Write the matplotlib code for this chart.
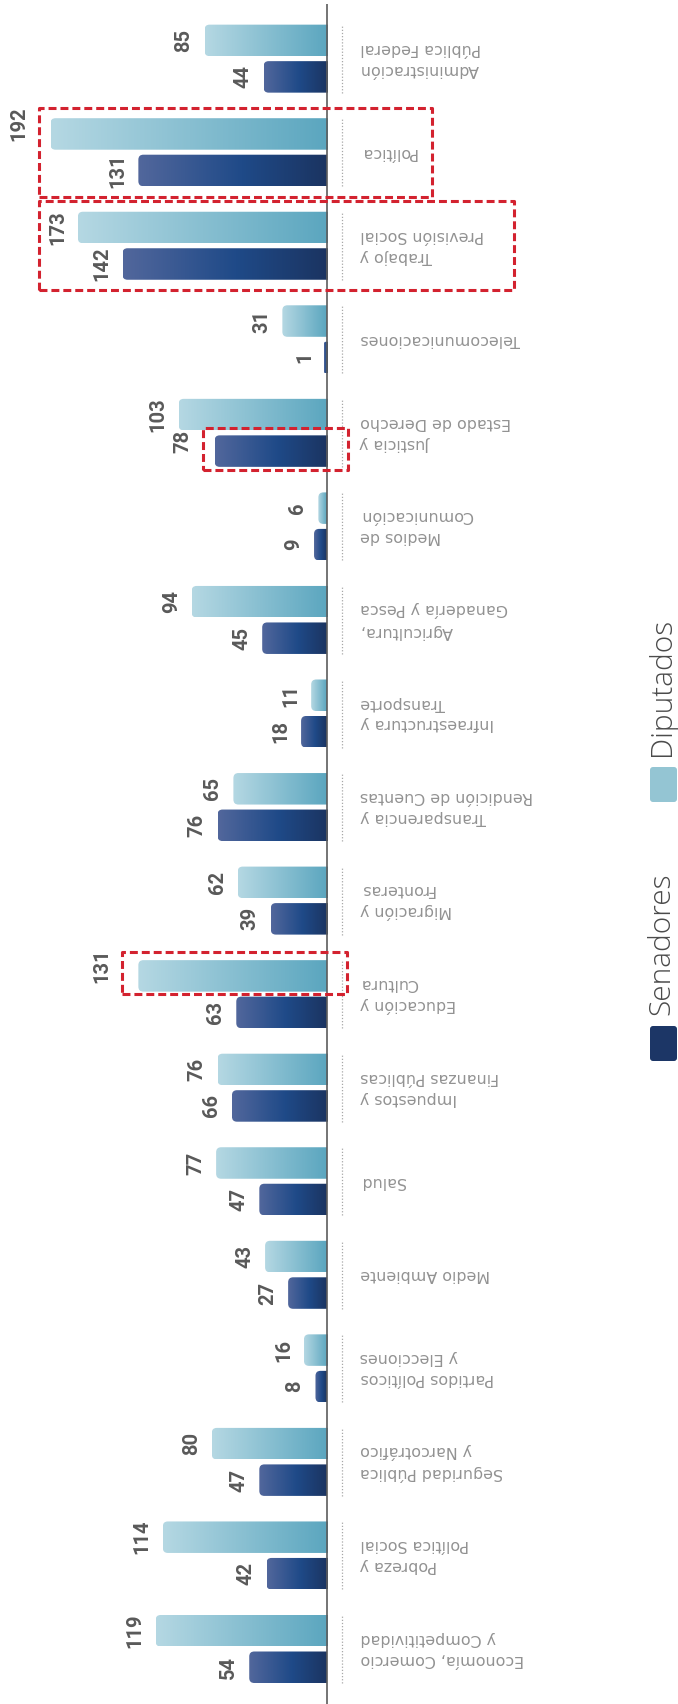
import numpy as np
import matplotlib
matplotlib.use("Agg")
import matplotlib.pyplot as plt
from matplotlib.patches import FancyBboxPatch
from matplotlib.colors import LinearSegmentedColormap

# ---------------- data (original order: first category at the bottom) ----------------
categories = [
    "Economía, Comercio\ny Competitividad",
    "Pobreza y\nPolítica Social",
    "Seguridad Pública\ny Narcotráfico",
    "Partidos Políticos\ny Elecciones",
    "Medio Ambiente",
    "Salud",
    "Impuestos y\nFinanzas Públicas",
    "Educación y\nCultura",
    "Migración y\nFronteras",
    "Transparencia y\nRendición de Cuentas",
    "Infraestructura y\nTransporte",
    "Agricultura,\nGanadería y Pesca",
    "Medios de\nComunicación",
    "Justicia y\nEstado de Derecho",
    "Telecomunicaciones",
    "Trabajo y\nPrevisión Social",
    "Política",
    "Administración\nPública Federal",
]
senadores = [54, 42, 47, 8, 27, 47, 66, 63, 39, 76, 18, 45, 9, 78, 1, 142, 131, 44]
diputados = [119, 114, 80, 16, 43, 77, 76, 131, 62, 65, 11, 94, 6, 103, 31, 173, 192, 85]
series_names = ["Senadores", "Diputados"]

# highlighted boxes: (category index, which bars, left px, right px)
highlights = [(16, "both", 39, 432), (15, "both", 39, 514),
              (13, "Senadores", 203, 348), (7, "Diputados", 122, 347)]

# ---------------- layout ----------------
W, H = 678, 1704
fig = plt.figure(figsize=(W / 100, H / 100), dpi=100)
ax = fig.add_axes([0, 0, 1, 1])
ax.set_axis_off()

X0, SX = 327.0, 1.44      # px of zero line, px per unit
Y0, SY = 1649.0, 93.55    # px of first category centre, px per category


def px_x(p):
    return (X0 - p) / SX


def px_y(p):
    return (Y0 - p) / SY


bar_h = 31.5 / SY
off = 18.25 / SY
n = len(categories)
ypos = np.arange(n)

sen_cmap = LinearSegmentedColormap.from_list("sen", [(0, "#1b3461"), (0.45, "#1f4a88"), (1, "#52679c")])
dip_cmap = LinearSegmentedColormap.from_list("dip", ["#5ba6bf", "#b5d8e3"])

sen_bars = ax.barh(ypos - off, senadores, height=bar_h, color="#1c3666", zorder=2)
dip_bars = ax.barh(ypos + off, diputados, height=bar_h, color="#94c5d3", zorder=2)

grad = np.linspace(0, 1, 256).reshape(1, -1)
for bars, cmap in ((sen_bars, sen_cmap), (dip_bars, dip_cmap)):
    for rect in bars:
        x0, w = rect.get_x(), rect.get_width()
        y0, hh = rect.get_y(), rect.get_height()
        wd = max(w, 3.2 / SX)          # keep very small bars visible next to the axis line
        rx = min(5.0 / SX, wd * 0.6)
        clip = FancyBboxPatch((x0 - 12, y0), wd + 12, hh,
                              boxstyle=f"round,pad=0,rounding_size={rx}",
                              mutation_aspect=SX / SY,
                              transform=ax.transData, facecolor="none", edgecolor="none")
        ax.add_patch(clip)
        im = ax.imshow(grad, cmap=cmap, extent=(x0, x0 + wd, y0, y0 + hh),
                       aspect="auto", interpolation="bicubic", zorder=2)
        im.set_clip_path(clip)
        rect.set_visible(False)

# which bars lie in a highlight box -> box left px
box_left = {}
for idx, which, lpx, rpx in highlights:
    for s in (["Senadores", "Diputados"] if which == "both" else [which]):
        box_left[(idx, s)] = lpx

# value labels
for name, bars, vals in (("Senadores", sen_bars, senadores), ("Diputados", dip_bars, diputados)):
    for i, (rect, v) in enumerate(zip(bars, vals)):
        end_px = X0 - v * SX
        right_px = end_px - 11
        yc = rect.get_y() + rect.get_height() / 2
        bl = box_left.get((i, name))
        if bl is not None and right_px - 18 < bl + 4:
            right_px = bl - 11
            yc += 10 / SY
        ax.text(px_x(right_px), yc, f"{v}",
                rotation=90, ha="right", va="center", fontsize=14.5,
                fontweight="bold", color="#595959", family="Roboto", zorder=4)

# category labels and dotted separators
for i, lab in enumerate(categories):
    ax.plot([px_x(342.3), px_x(342.3)], [i - 34 / SY, i + 34 / SY],
            color="#a8a8a8", lw=0.9, ls=(0, (1, 1.5)), zorder=1)
    ax.text(px_x(360), i, lab, rotation=180, ha="left", va="center",
            multialignment="right", linespacing=1.5, fontsize=11.4,
            color="#929292", family="DejaVu Sans", zorder=3)

# zero line
ax.plot([0, 0], [px_y(H), px_y(4)], color="#5c5c5c", lw=1.2, zorder=5, solid_capstyle="butt")

# highlight boxes
for idx, which, lpx, rpx in highlights:
    if which == "both":
        yc, half = idx, (off * SY + 15.75 + 10.5) / SY
    elif which == "Senadores":
        yc, half = idx - off + 2 / SY, (15.75 + 5.5) / SY
    else:
        yc, half = idx + off + 3 / SY, (15.75 + 5.5) / SY
    left, right = px_x(lpx), px_x(rpx)
    xs = [left, right, right, left, left]
    ys = [yc - half, yc - half, yc + half, yc + half, yc - half]
    ax.plot(xs, ys, color="#d3222f", lw=2.2, ls=(0, (2.6, 1.3)), zorder=6)

ax.set_xlim(px_x(0), px_x(W))
ax.set_ylim(px_y(H), px_y(0))

# legend (rotated, drawn in pixel space)
lax = fig.add_axes([0, 0, 1, 1])
lax.set_axis_off()
lax.set_xlim(0, W)
lax.set_ylim(H, 0)
leg_items = [(series_names[1], "#94c5d3", 767), (series_names[0], "#1c3666", 1026)]
for name, col, ytop in leg_items:
    lax.add_patch(FancyBboxPatch((650, ytop), 27, 35,
                                 boxstyle="round,pad=0,rounding_size=3",
                                 facecolor=col, edgecolor="none"))
    lax.text(662, ytop - 11, name, rotation=90, ha="center", va="bottom",
             fontsize=21.5, fontweight="light", color="#4a4a4a", family="Open Sans")

fig.savefig("out.png", dpi=100)
